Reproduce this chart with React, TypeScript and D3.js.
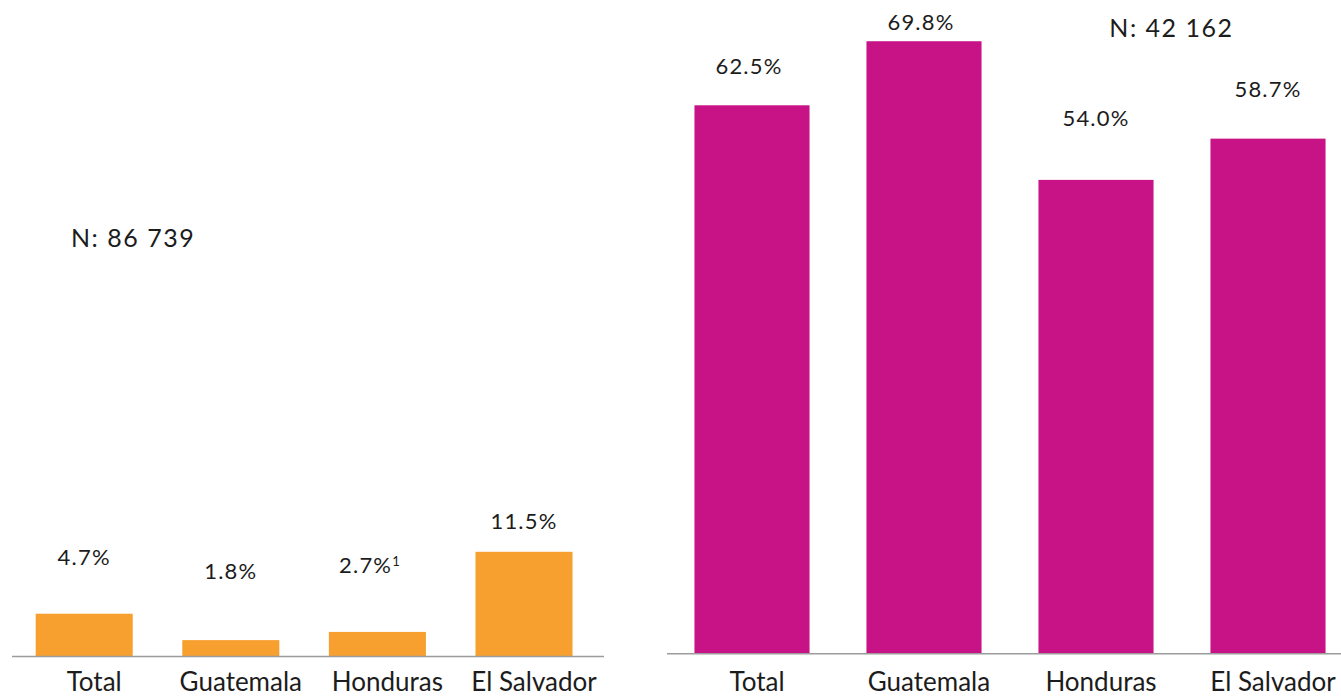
import React from 'react';
import * as d3 from 'd3';

// ---- data ----
const categories = ['Total', 'Guatemala', 'Honduras', 'El Salvador'];
const leftValues = [4.7, 1.8, 2.7, 11.5];
const leftFootnotes = ['', '', '1', ''];
const rightValues = [62.5, 69.8, 54.0, 58.7];
const rightFootnotes = ['', '', '', ''];
const leftN = 'N: 86 739';
const rightN = 'N: 42 162';

// ---- layout (not data) ----
const W = 1341;
const H = 696;
const leftRaise = [49, 61, 59, 23];
const rightRaise = [31, 11, 54, 42];
const leftLabelDx = [0, 0, -8, 0];
const rightLabelDx = [-3, -3, 0, 0];
const FONT = 'Lato, "Open Sans", sans-serif';
const ORANGE = '#F7A030';
const MAGENTA = '#C71386';
const TEXT = '#1c1c1c';
const AXIS = '#9c9c9c';

const fmt = (v: number) => d3.format('.1f')(v) + '%';

type PanelProps = {
  values: number[];
  footnotes: string[];
  color: string;
  x: d3.ScaleBand<string>;
  y: d3.ScaleLinear<number, number>;
  raise: number[];
  labelDx: number[];
  axisX: [number, number];
  catBaseline: number;
  catDx: number;
};

function Panel({ values, footnotes, color, x, y, raise, labelDx, axisX, catBaseline, catDx }: PanelProps) {
  const base = y(0);
  return (
    <g>
      {categories.map((c, i) => (
        <rect
          key={'b' + c}
          x={x(c)}
          y={y(values[i])}
          width={x.bandwidth()}
          height={base - y(values[i])}
          fill={color}
        />
      ))}
      <line x1={axisX[0]} x2={axisX[1]} y1={base} y2={base} stroke={AXIS} strokeWidth={1.5} />
      {categories.map((c, i) => (
        <text
          key={'v' + c}
          x={(x(c) as number) + x.bandwidth() / 2 + labelDx[i]}
          y={y(values[i]) - raise[i]}
          textAnchor="middle"
          fontFamily={FONT}
          fontSize={22}
          letterSpacing={1.2}
          fill={TEXT}
        >
          {fmt(values[i])}
          {footnotes[i] ? (
            <tspan fontSize={13} dy={-7} letterSpacing={0}>
              {footnotes[i]}
            </tspan>
          ) : null}
        </text>
      ))}
      {categories.map((c) => (
        <text
          key={'c' + c}
          x={(x(c) as number) + x.bandwidth() / 2 + catDx}
          y={catBaseline}
          textAnchor="middle"
          fontFamily={FONT}
          fontSize={26}
          fill={TEXT}
        >
          {c}
        </text>
      ))}
    </g>
  );
}

export default function App() {
  const xLeft = d3.scaleBand<string>().domain(categories).range([10.9, 597.3]).paddingInner(0.338).paddingOuter(0.169);
  const yLeft = d3.scaleLinear().domain([0, 72.1]).range([656.5, 0]);
  const xRight = d3.scaleBand<string>().domain(categories).range([666, 1354]).paddingInner(0.331).paddingOuter(0.1655);
  const yRight = d3.scaleLinear().domain([0, 74.5]).range([653.7, 0]);

  return (
    <svg
      width={W}
      height={H}
      style={{ position: 'absolute', left: 0, top: 0, background: '#fff' }}
    >
      <rect x={0} y={0} width={W} height={H} fill="#fff" />
      <Panel
        values={leftValues}
        footnotes={leftFootnotes}
        color={ORANGE}
        x={xLeft}
        y={yLeft}
        raise={leftRaise}
        labelDx={leftLabelDx}
        axisX={[12, 604]}
        catBaseline={690.7}
        catDx={10}
      />
      <Panel
        values={rightValues}
        footnotes={rightFootnotes}
        color={MAGENTA}
        x={xRight}
        y={yRight}
        raise={rightRaise}
        labelDx={rightLabelDx}
        axisX={[667, 1341]}
        catBaseline={691}
        catDx={5}
      />
      <text x={71} y={246.7} fontFamily={FONT} fontSize={25} letterSpacing={1.5} fill={TEXT}>
        {leftN}
      </text>
      <text x={1109.3} y={36.7} fontFamily={FONT} fontSize={25} letterSpacing={1.5} fill={TEXT}>
        {rightN}
      </text>
    </svg>
  );
}
